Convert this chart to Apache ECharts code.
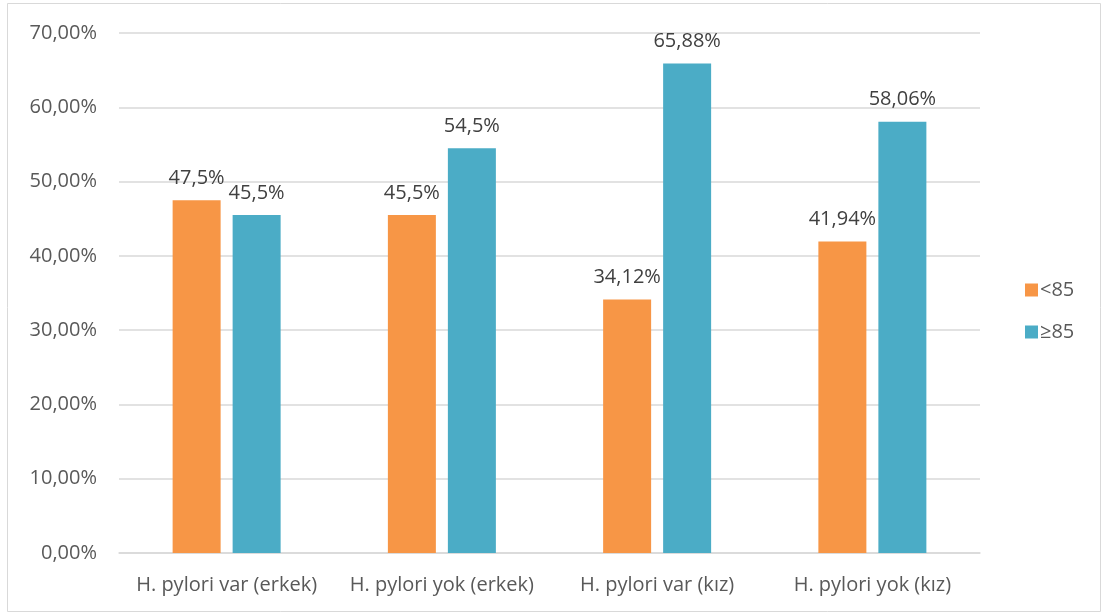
<!DOCTYPE html>
<html>
<head>
<meta charset="utf-8">
<script src="https://cdn.jsdelivr.net/npm/echarts@6/dist/echarts.min.js"></script>
<style>
  html, body { margin: 0; padding: 0; background: #fff; }
  #chart { width: 1105px; height: 616px; }
</style>
</head>
<body>
<div id="chart"></div>
<script>
// Categories and series values (percent)
const categories = ['H. pylori var (erkek)', 'H. pylori yok (erkek)', 'H. pylori var (kız)', 'H. pylori yok (kız)'];
const seriesNames = ['<85', '≥85'];
const below85 = [47.5, 45.5, 34.12, 41.94];
const above85 = [45.5, 54.5, 65.88, 58.06];

const FONT = '"Open Sans", "Noto Sans", sans-serif';
const FS = 20;
const fmtPct = v => String(v).replace('.', ',') + '%';

const chart = echarts.init(document.getElementById('chart'));
chart.setOption({
  animation: false,
  backgroundColor: '#fff',
  textStyle: { fontFamily: FONT },
  graphic: [{
    type: 'rect',
    shape: { x: 7.5, y: 3.5, width: 1093, height: 608 },
    style: { fill: 'none', stroke: '#d9d9d9', lineWidth: 1 },
    silent: true
  }],
  grid: { left: 119, right: 125, top: 33, bottom: 63, containLabel: false },
  legend: {
    orient: 'vertical',
    left: 1020,
    top: 275,
    itemWidth: 13,
    itemHeight: 13,
    itemGap: 22,
    icon: 'rect',
    textStyle: { fontFamily: FONT, fontSize: FS, color: '#595959', padding: [0, 0, 0, -3] },
    data: seriesNames
  },
  xAxis: {
    type: 'category',
    data: categories,
    axisTick: { show: false },
    axisLine: { lineStyle: { color: '#d9d9d9', width: 1.5 } },
    axisLabel: { interval: 0, fontFamily: FONT, fontSize: FS, color: '#595959', margin: 22 }
  },
  yAxis: {
    type: 'value',
    min: 0,
    max: 70,
    interval: 10,
    axisLine: { show: false },
    axisTick: { show: false },
    splitLine: { lineStyle: { color: '#d9d9d9', width: 1.5 } },
    axisLabel: {
      fontFamily: FONT, fontSize: FS, color: '#595959', margin: 22,
      formatter: v => v.toFixed(2).replace('.', ',') + '%'
    }
  },
  series: [
    {
      name: seriesNames[0],
      type: 'bar',
      data: below85,
      barWidth: 48,
      barGap: '25%',
      itemStyle: { color: '#F79646' },
      label: {
        show: true, position: 'top', distance: 12,
        fontFamily: FONT, fontSize: FS, color: '#404040',
        formatter: p => fmtPct(p.value)
      }
    },
    {
      name: seriesNames[1],
      type: 'bar',
      data: above85,
      barWidth: 48,
      itemStyle: { color: '#4BACC6' },
      label: {
        show: true, position: 'top', distance: 12,
        fontFamily: FONT, fontSize: FS, color: '#404040',
        formatter: p => fmtPct(p.value)
      }
    }
  ]
});
</script>
</body>
</html>
